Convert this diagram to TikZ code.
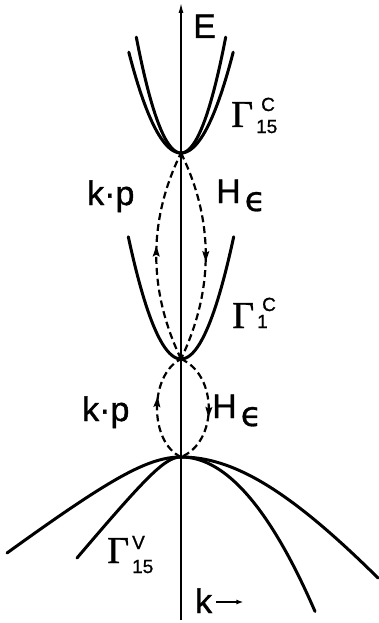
\documentclass[tikz,border=0pt]{standalone}
\usepackage{fontspec}
\setmainfont[FakeBold=1.2]{Liberation Sans}
\newfontfamily\serifg[FakeBold=1]{Liberation Serif}
\newfontfamily\sanss[FakeBold=1]{Liberation Sans}
\newfontfamily\dejavu[FakeBold=0.8]{DejaVu Sans}
\usetikzlibrary{arrows.meta,decorations.markings}
\tikzset{
  band/.style={line width=3pt, line join=round, line cap=round},
  dashband/.style={line width=2.2pt, dash pattern=on 7pt off 4pt},
  axisline/.style={line width=1.3pt},
  lab/.style={font=\fontsize{34}{34}\selectfont, inner sep=0pt, anchor=base west},
  gam/.style={font=\serifg\fontsize{38}{38}\selectfont, inner sep=0pt, anchor=base west},
  midarrow/.style={postaction={decorate, decoration={markings,
     mark=at position #1 with {\fill[solid] (6pt,0pt) -- (-5pt,3.6pt) -- (-3pt,0pt) -- (-5pt,-3.6pt) -- cycle;}}}}
}
\newcommand\scrf{\sanss\fontsize{19}{19}\selectfont}
% #1 sup kern, #2 sup, #3 sup raise, #4 sub kern, #5 sub, #6 sub drop
\newcommand\glab[6]{Γ\rlap{\kern#1\raisebox{#3}{\scrf #2}}\kern#4\raisebox{-#6}{\scrf #5}}
\newcommand\epsglyph{\raisebox{-8pt}{\dejavu\fontsize{34}{34}\selectfont ϵ}}
\begin{document}
\begin{tikzpicture}[x=1pt,y=-1pt]
\useasboundingbox (0,0) rectangle (379,623);
% axis
\coordinate (bot) at (181,620);
\coordinate (top) at (181,3);
\draw[axisline,-{Latex[length=10pt,width=5pt]}] (bot) -- (top);
% band extrema
\coordinate (G15) at (181,153);
\coordinate (G1) at (181,359);
\coordinate (GV) at (181,457);
% Gamma15 conduction
\draw[band] plot[domain=-52.2:52.2,samples=60,variable=\t] ({181+\t},{153-0.037*\t*\t});
\draw[band] plot[domain=-44.7:44.7,samples=60,variable=\t] ({181+\t},{153-0.058*\t*\t});
% Gamma1 conduction
\draw[band] plot[domain=-52.7:52.7,samples=60,variable=\t] ({181+\t},{359-0.044*\t*\t});
% valence bands
\draw[band] plot[domain=0:197,samples=80,variable=\t] ({181+\t},{457+10*sqrt(19.2*19.2+1.574*(\t/10)*(\t/10))-192});
\draw[band] plot[domain=0:134,samples=80,variable=\t] ({181+\t},{457+0.86*(\t/10)*(\t/10)});
\draw[band] plot[domain=0:174,samples=80,variable=\t] ({181-\t},{457+10*sqrt(4.29*4.29+0.5765*(\t/10)*(\t/10))-42.9});
\draw[band] plot[domain=0:104,samples=80,variable=\t] ({181-\t},{457+10*sqrt(2.71*2.71+1.449*(\t/10)*(\t/10))-27.1});
% dashed couplings
\draw[dashband,midarrow=0.52] (G1) .. controls (148,290) and (148,220) .. (G15);
\draw[dashband,midarrow=0.5] (G15) .. controls (214,220) and (214,290) .. (G1);
\draw[dashband,midarrow=0.55] (GV) .. controls (149,442) and (149,375) .. (G1);
\draw[dashband,midarrow=0.53] (G1) .. controls (218,375) and (218,442) .. (GV);
% labels
\node[lab] (E) at (193,38) {E};
\node[lab] (kp1) at (87,205) {k·p};
\node[lab] (He1) at (216,203) {H\hspace{4pt}\epsglyph};
\node[lab] (kp2) at (82,421) {k·p};
\node[lab] (He2) at (212,418) {H\hspace{4pt}\epsglyph};
\node[lab] (k) at (195,613) {k};
\draw[line width=1.3pt,-{Latex[length=7pt,width=5pt]}] (k.base east) ++(4,-11) -- ++(27,0);
% Gamma labels
\node[gam] (g15c) at (231,127) {\glab{8pt}{C}{16pt}{3pt}{15}{6pt}};
\node[gam] (g1c) at (232,328) {\glab{8pt}{C}{17pt}{3pt}{1}{0pt}};
\node[gam] (g15v) at (107,563) {\glab{3pt}{V}{14pt}{3pt}{15}{10pt}};
\end{tikzpicture}
\end{document}
